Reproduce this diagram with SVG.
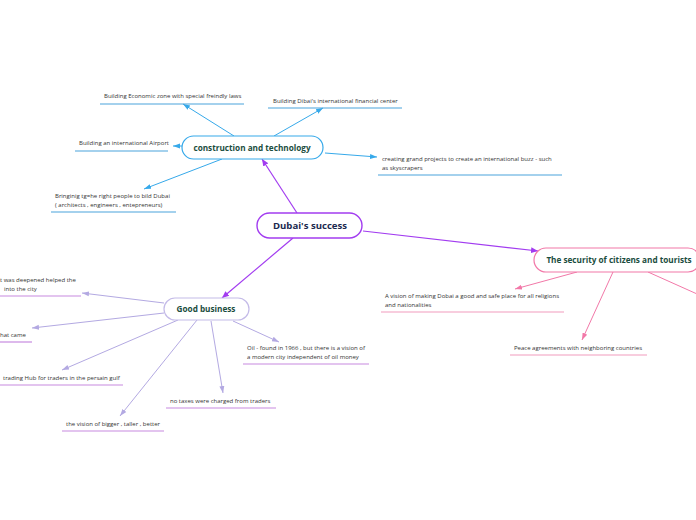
<svg xmlns="http://www.w3.org/2000/svg" width="696" height="520" viewBox="0 0 696 520">
<defs>
<marker id="aP" markerUnits="userSpaceOnUse" markerWidth="8" markerHeight="8" refX="7" refY="4" orient="auto"><path d="M0,1 L7,4 L0,7 z" fill="#a23cf0"/></marker>
<marker id="aB" markerUnits="userSpaceOnUse" markerWidth="8" markerHeight="8" refX="7" refY="4" orient="auto"><path d="M0,1.5 L7,4 L0,6.5 z" fill="#36a9ea"/></marker>
<marker id="aL" markerUnits="userSpaceOnUse" markerWidth="8" markerHeight="8" refX="7" refY="4" orient="auto"><path d="M0,1.5 L7,4 L0,6.5 z" fill="#b3a9e2"/></marker>
<marker id="aK" markerUnits="userSpaceOnUse" markerWidth="8" markerHeight="8" refX="7" refY="4" orient="auto"><path d="M0,1.5 L7,4 L0,6.5 z" fill="#f278a8"/></marker>
</defs>
<style>
text{font-family:"Open Sans","Noto Sans","Liberation Sans",sans-serif}
.t{font-size:6px;fill:#333}
.h{font-size:8.2px;font-weight:bold;fill:#1b4d3e;text-anchor:middle}
.cP{stroke:#a23cf0;stroke-width:1.2;fill:none;marker-end:url(#aP)}
.cB{stroke:#36a9ea;stroke-width:1;fill:none;marker-end:url(#aB)}
.cL{stroke:#b3a9e2;stroke-width:1;fill:none;marker-end:url(#aL)}
.cK{stroke:#f278a8;stroke-width:1;fill:none;marker-end:url(#aK)}
.uB{stroke:#4aa3db;stroke-width:1.2}
.uL{stroke:#c78ae0;stroke-width:1.2}
.uK{stroke:#f29bbd;stroke-width:1.2}
</style>
<rect width="696" height="520" fill="#fff"/>
<g id="connectors">
<line class="cP" x1="297" y1="213" x2="262" y2="159"/>
<line class="cP" x1="293" y1="238" x2="222" y2="298"/>
<line class="cP" x1="363" y1="231" x2="538" y2="251"/>
<line class="cB" x1="234" y1="136" x2="183" y2="104"/>
<line class="cB" x1="274" y1="136" x2="323" y2="108"/>
<line class="cB" x1="182" y1="146" x2="173" y2="146"/>
<line class="cB" x1="325" y1="153" x2="377" y2="157"/>
<line class="cB" x1="222" y1="159" x2="144" y2="189"/>
<line class="cL" x1="164" y1="303" x2="82" y2="293"/>
<line class="cL" x1="164" y1="313" x2="32" y2="328"/>
<line class="cL" x1="178" y1="320" x2="62" y2="370"/>
<line class="cL" x1="197" y1="320" x2="120" y2="416"/>
<line class="cL" x1="211" y1="321" x2="223" y2="393"/>
<line class="cL" x1="233" y1="321" x2="279" y2="342"/>
<line class="cK" x1="577" y1="272" x2="515" y2="289"/>
<line class="cK" x1="613" y1="272" x2="582" y2="340"/>
<line stroke="#f278a8" stroke-width="1" x1="648" y1="272" x2="706" y2="298"/>
</g>
<g id="dubai">
<rect x="257" y="213" width="105" height="25" rx="12.5" fill="#fff" stroke="#a23cf0" stroke-width="1.4"/>
<text x="310" y="229" style="font-size:9.6px;font-weight:bold;fill:#1c2a50;text-anchor:middle">Dubai's success</text>
</g>
<g id="construction">
<rect x="182" y="136" width="141" height="23" rx="11.5" fill="#fff" stroke="#36a9ea" stroke-width="1.2"/>
<text class="h" x="252" y="151">construction and technology</text>
</g>
<g id="good">
<rect x="164" y="298" width="85" height="22" rx="11" fill="#fff" stroke="#c4bbe8" stroke-width="1.2"/>
<text class="h" x="206" y="312">Good business</text>
</g>
<g id="security">
<rect x="534" y="248" width="166" height="24" rx="12" fill="#fff" stroke="#f278a8" stroke-width="1.2"/>
<text class="h" x="619" y="263">The security of citizens and tourists</text>
</g>
<g id="c1"><text class="t" x="104" y="98">Building Economic zone with special freindly laws</text><line class="uB" x1="100" y1="104" x2="244" y2="104"/></g>
<g id="c2"><text class="t" x="273" y="103">Building Dibai's international financial center</text><line class="uB" x1="268" y1="108" x2="402" y2="108"/></g>
<g id="c3"><text class="t" x="79" y="145">Building an international Airport</text><line class="uB" x1="75" y1="151" x2="168" y2="151"/></g>
<g id="c4"><text class="t" x="382" y="161">creating grand projects to create an international buzz - such</text><text class="t" x="382" y="170">as skyscrapers</text><line class="uB" x1="378" y1="175" x2="562" y2="175"/></g>
<g id="c5"><text class="t" x="55" y="198">Bringinig tg=he right people to bild Dubai</text><text class="t" x="55" y="207">( architects , engineers , entepreneurs)</text><line class="uB" x1="51" y1="212" x2="176" y2="212"/></g>
<g id="g1"><text class="t" x="0" y="282">t was deepened helped the</text><text class="t" x="4" y="291">into the city</text><line class="uL" x1="0" y1="296" x2="81" y2="296"/></g>
<g id="g2"><text class="t" x="0" y="337">hat came</text><line class="uL" x1="0" y1="342" x2="32" y2="342"/></g>
<g id="g3"><text class="t" x="3" y="380">trading Hub for traders in the persain gulf</text><line class="uL" x1="0" y1="385" x2="123" y2="385"/></g>
<g id="g4"><text class="t" x="66" y="426">the vision of bigger , taller , better</text><line class="uL" x1="62" y1="431" x2="164" y2="431"/></g>
<g id="g5"><text class="t" x="170" y="403">no taxes were charged from traders</text><line class="uL" x1="166" y1="408" x2="276" y2="408"/></g>
<g id="g6"><text class="t" x="247" y="350">Oil - found in 1966 , but there is a vision of</text><text class="t" x="247" y="359">a modern city independent of oil money</text><line class="uL" x1="243" y1="364" x2="369" y2="364"/></g>
<g id="s1"><text class="t" x="385" y="298">A vision of making Dobai a good and safe place for all religions</text><text class="t" x="385" y="307">and nationalities</text><line class="uK" x1="381" y1="312" x2="564" y2="312"/></g>
<g id="s2"><text class="t" x="514" y="350">Peace agreements with neighboring countries</text><line class="uK" x1="510" y1="355" x2="647" y2="355"/></g>
</svg>
